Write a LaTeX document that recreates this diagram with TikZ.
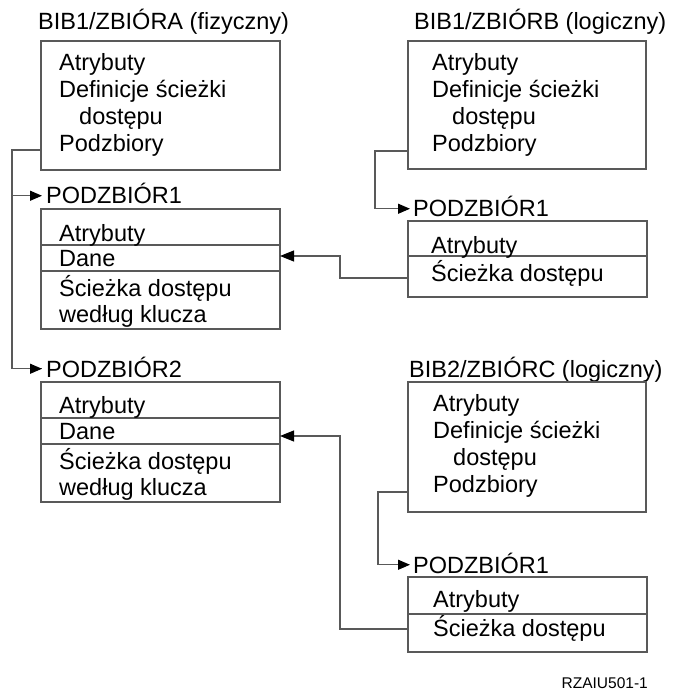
\documentclass[tikz,border=0pt]{standalone}
\usepackage{fontspec}
\setmainfont{Liberation Sans}
\usetikzlibrary{arrows.meta}
\begin{document}
\begin{tikzpicture}[x=1pt,y=-1pt,
  frame/.style={draw=black!65, line width=1.1pt, inner sep=0pt, outer sep=0pt, anchor=north west},
  txt/.style={anchor=base west, inner sep=0pt, font=\fontsize{23.5}{27}\selectfont, text=black},
  ttl/.style={txt, text height=16.5pt, text depth=0pt},
  link/.style={draw=black!65, line width=1.1pt},
  rule/.style={draw=black!65, line width=1.1pt},
  tipS/.style={-{Triangle[length=12pt,width=10pt,color=black]}},
  tipL/.style={-{Triangle[length=14pt,width=11pt,color=black]}},
]
\useasboundingbox (0,0) rectangle (672,692);

% ---- BIB1/ZBIORA (physical file) ----
\node[ttl] (At) at (38,30) {BIB1/ZBIÓRA (fizyczny)};
\node[frame, minimum width=239pt, minimum height=129pt] (A) at (41,41) {};
\node[txt] (A1) at (59,71) {Atrybuty};
\node[txt] (A2) at (59,98) {Definicje ścieżki};
\node[txt] (A3) at (79,125) {dostępu};
\node[txt] (A4) at (59,152) {Podzbiory};

% ---- member 1 of the physical file ----
\node[ttl] (P1t) at (46,204) {PODZBIÓR1};
\node[frame, minimum width=239pt, minimum height=120pt] (P1) at (41,209) {};
\draw[rule] ([yshift=-36pt]P1.north west) -- ([yshift=-36pt]P1.north east);
\draw[rule] ([yshift=-62pt]P1.north west) -- ([yshift=-62pt]P1.north east);
\node[txt] (P1a) at (59,241) {Atrybuty};
\node[txt] (P1d) at (59,266) {Dane};
\node[txt] (P1s) at (59,296) {Ścieżka dostępu};
\node[txt] (P1k) at (59,322) {według klucza};

% ---- member 2 of the physical file ----
\node[ttl] (P2t) at (46,377) {PODZBIÓR2};
\node[frame, minimum width=239pt, minimum height=120pt] (P2) at (41,382) {};
\draw[rule] ([yshift=-36pt]P2.north west) -- ([yshift=-36pt]P2.north east);
\draw[rule] ([yshift=-62pt]P2.north west) -- ([yshift=-62pt]P2.north east);
\node[txt] (P2a) at (59,413) {Atrybuty};
\node[txt] (P2d) at (59,439) {Dane};
\node[txt] (P2s) at (59,469) {Ścieżka dostępu};
\node[txt] (P2k) at (59,495) {według klucza};

% ---- BIB1/ZBIORB (logical file) ----
\node[ttl] (Bt) at (414,30) {BIB1/ZBIÓRB (logiczny)};
\node[frame, minimum width=238pt, minimum height=128pt] (B) at (408,41) {};
\node[txt] (B1a) at (432,71) {Atrybuty};
\node[txt] (B2a) at (432,98) {Definicje ścieżki};
\node[txt] (B3a) at (452,125) {dostępu};
\node[txt] (B4a) at (432,152) {Podzbiory};

\node[ttl] (Q1t) at (413,217) {PODZBIÓR1};
\node[frame, minimum width=239pt, minimum height=76pt] (Q1) at (408,221) {};
\draw[rule] ([yshift=-35pt]Q1.north west) -- ([yshift=-35pt]Q1.north east);
\node[txt] (Q1a) at (431,254) {Atrybuty};
\node[txt] (Q1s) at (431,281) {Ścieżka dostępu};

% ---- BIB2/ZBIORC (logical file) ----
\node[ttl] (Ct) at (409,377) {BIB2/ZBIÓRC (logiczny)};
\node[frame, minimum width=238pt, minimum height=130pt] (C) at (408,382) {};
\node[txt] (C1a) at (433,411) {Atrybuty};
\node[txt] (C2a) at (433,438) {Definicje ścieżki};
\node[txt] (C3a) at (453,465) {dostępu};
\node[txt] (C4a) at (433,492) {Podzbiory};

\node[ttl] (R1t) at (413,573) {PODZBIÓR1};
\node[frame, minimum width=239pt, minimum height=75pt] (R1) at (408,577) {};
\draw[rule] ([yshift=-37pt]R1.north west) -- ([yshift=-37pt]R1.north east);
\node[txt] (R1a) at (433,607) {Atrybuty};
\node[txt] (R1s) at (433,636) {Ścieżka dostępu};

% ---- connectors ----
\coordinate (trunkA) at (12,150);
\draw[link] (A.west |- trunkA) -- (trunkA) |- ([xshift=-4pt]P2t.west);
\draw[link, tipS] (trunkA |- P2t.west) -- ([xshift=-4pt]P2t.west);
\draw[link, tipS] (trunkA |- P1t.west) -- ([xshift=-4pt]P1t.west);

\coordinate (trunkB) at (375,151);
\draw[link, tipS] (B.west |- trunkB) -- (trunkB) |- ([xshift=-3pt]Q1t.west);

\coordinate (trunkC) at (378,492);
\draw[link, tipS] (C.west |- trunkC) -- (trunkC) |- ([xshift=-3pt]R1t.west);

\coordinate (bendQ) at (340,278);
\coordinate (hitP1) at (280,256);
\draw[link, tipL] (Q1.west |- bendQ) -- (bendQ) |- (P1.east |- hitP1);

\coordinate (bendR) at (340,629);
\coordinate (hitP2) at (280,436);
\draw[link, tipL] (R1.west |- bendR) -- (bendR) |- (P2.east |- hitP2);

% ---- figure code ----
\node[anchor=base east, inner sep=0pt, font=\fontsize{15.5}{18}\selectfont, text=black] (code) at (648,688) {RZAIU501-1};
\end{tikzpicture}
\end{document}
